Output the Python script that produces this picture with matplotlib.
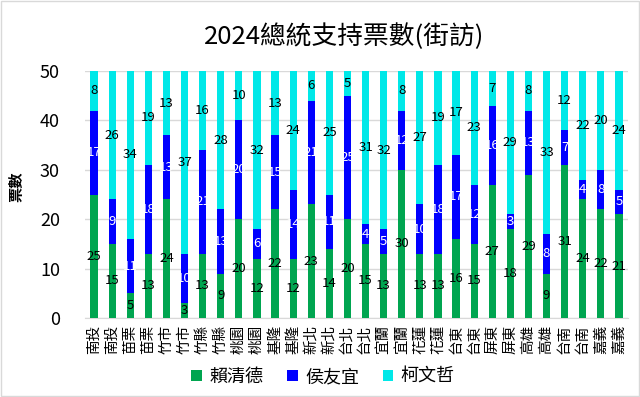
import matplotlib
matplotlib.use("Agg")
import matplotlib.pyplot as plt
import numpy as np

plt.rcParams['font.family'] = ['Noto Sans CJK TC', 'DejaVu Sans']

regions = ["南投","南投","苗栗","苗栗","竹市","竹市","竹縣","竹縣","桃園","桃園",
           "基隆","基隆","新北","新北","台北","台北","宜蘭","宜蘭","花蓮","花蓮",
           "台東","台東","屏東","屏東","高雄","高雄","台南","台南","嘉義","嘉義"]
lai = [25,15,5,13,24,3,13,9,20,12,22,12,23,14,20,15,13,30,13,13,16,15,27,18,29,9,31,24,22,21]
hou = [17,9,11,18,13,10,21,13,20,6,15,14,21,11,25,4,5,12,10,18,17,12,16,3,13,8,7,4,8,5]
ko = [8,26,34,19,13,37,16,28,10,32,13,24,6,25,5,31,32,8,27,19,17,23,7,29,8,33,12,22,20,24]
series_names = ["賴清德", "侯友宜", "柯文哲"]
colors = ["#00A550", "#0000FF", "#00E8E8"]
text_colors = ["black", "white", "black"]

fig = plt.figure(figsize=(6.4, 3.97), dpi=100)
ax = fig.add_axes([85/640, 1-318/397, (628-85)/640, (318-71)/397])

x = np.arange(len(regions))
bottom = np.zeros(len(regions))
for vals, name, c, tc in zip([lai, hou, ko], series_names, colors, text_colors):
    bars = ax.bar(x, vals, width=0.4, bottom=bottom, color=c, label=name, zorder=3)
    ax.bar_label(bars, labels=[str(v) for v in vals], label_type='center',
                 color=tc, fontsize=9.5, zorder=4)
    bottom += np.array(vals)

ax.set_xlim(-0.5, len(regions) - 0.5)
ax.set_ylim(0, 50)
ax.set_yticks([0, 10, 20, 30, 40, 50])
ax.tick_params(axis='y', labelsize=13, length=0, pad=18)
ax.set_xticks(x)
ax.set_xticklabels(regions, rotation=90, fontsize=10.5)
ax.tick_params(axis='x', length=0, pad=5)
ax.grid(axis='y', color='#D9D9D9', linewidth=1, zorder=0)
for s in ['top', 'right', 'left']:
    ax.spines[s].set_visible(False)
ax.spines['bottom'].set_color('#D9D9D9')
ax.set_ylabel("票數", fontsize=11, fontweight='bold', labelpad=2)
ax.yaxis.set_label_coords(-0.112, 0.53)

fig.text(344/640, 1-37/397, "2024總統支持票數(街訪)", fontsize=18.5,
         ha='center', va='center')

fig.legend(loc='center', bbox_to_anchor=(323/640, 1-377/397), ncol=3, frameon=False,
           fontsize=13, handlelength=0.6, handleheight=0.6, columnspacing=1.3,
           handletextpad=0.4)

border = plt.Rectangle((0.002, 0.002), 0.996, 0.996, transform=fig.transFigure,
                       fill=False, edgecolor='#D9D9D9', linewidth=1)
fig.patches.append(border)

fig.savefig("out.png", dpi=100)
